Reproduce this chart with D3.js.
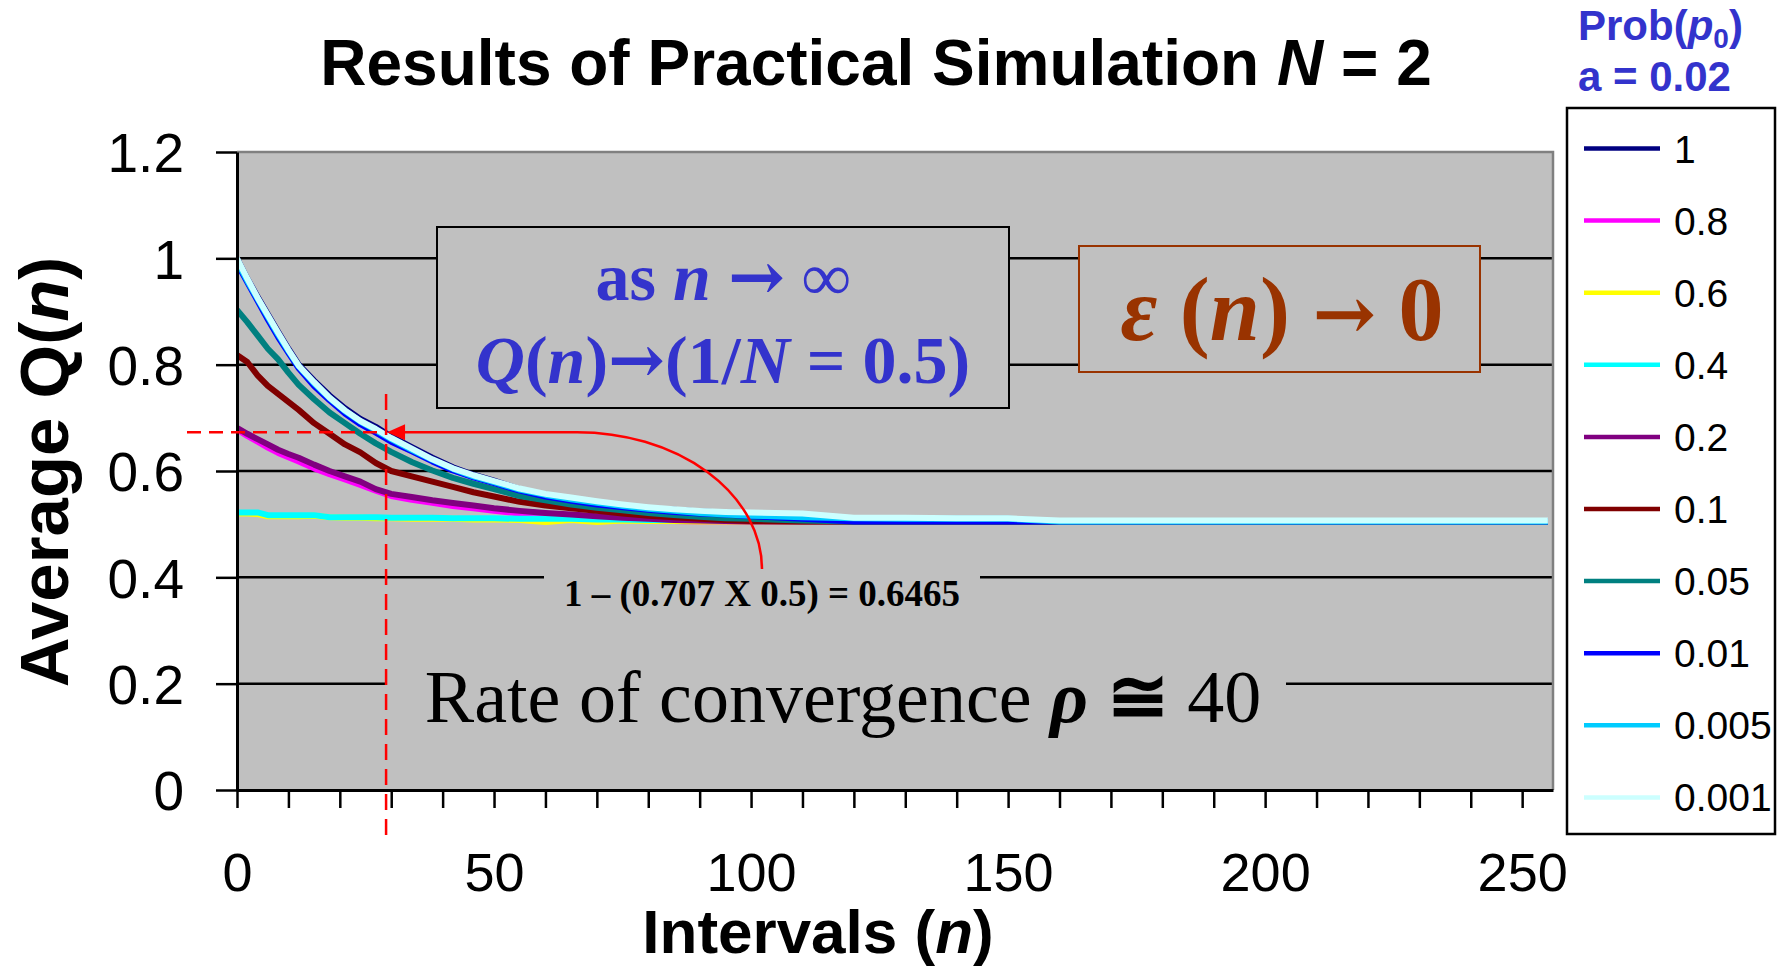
<!DOCTYPE html>
<html><head><meta charset="utf-8">
<script src="https://cdn.jsdelivr.net/npm/d3@7"></script>
<style>
html,body{margin:0;padding:0;background:#fff;}
svg{display:block;}
</style></head>
<body>
<script>
// ---------- DATA ----------
const intervals = [0,2,4,6,8,10,12,15,18,21, 24,27,30,34,38,42,46,50,55,60, 65,70,75,80,85,90,95,100,110,120, 130,140,150,160,180,200,220,240,255];
const seriesNames = ["1","0.8","0.6","0.4","0.2","0.1","0.05","0.01","0.005","0.001"];
const seriesColors = ["#000080","#FF00FF","#FFFF00","#00FFFF","#800080","#800000","#008080","#0000FF","#00CCFF","#CCFFFF"];
const q_1 = [1.000,0.962,0.928,0.895,0.862,0.830,0.800,0.770,0.742,0.718, 0.698,0.683,0.665,0.645,0.625,0.607,0.593,0.582,0.566,0.555, 0.547,0.540,0.535,0.530,0.527,0.524,0.522,0.520,0.515,0.510, 0.508,0.506,0.505,0.505,0.505,0.505,0.505,0.505,0.505];
const q_08 = [0.678,0.666,0.655,0.644,0.634,0.626,0.618,0.605,0.594,0.584, 0.574,0.563,0.553,0.546,0.540,0.534,0.530,0.525,0.520,0.517, 0.514,0.512,0.510,0.508,0.506,0.505,0.505,0.505,0.505,0.505, 0.505,0.505,0.505,0.505,0.505,0.505,0.505,0.505,0.505];
const q_06 = [0.520,0.520,0.519,0.515,0.515,0.515,0.515,0.516,0.513,0.512, 0.512,0.511,0.511,0.510,0.510,0.510,0.509,0.509,0.508,0.504, 0.508,0.504,0.507,0.506,0.506,0.505,0.505,0.505,0.505,0.505, 0.505,0.505,0.505,0.505,0.505,0.505,0.505,0.505,0.505];
const q_04 = [0.522,0.522,0.522,0.517,0.517,0.517,0.517,0.517,0.513,0.513, 0.513,0.513,0.512,0.512,0.512,0.511,0.511,0.511,0.510,0.510, 0.510,0.509,0.509,0.508,0.508,0.508,0.507,0.507,0.506,0.505, 0.505,0.505,0.505,0.505,0.505,0.505,0.505,0.505,0.505];
const q_02 = [0.681,0.670,0.660,0.650,0.640,0.632,0.625,0.612,0.600,0.590, 0.580,0.566,0.557,0.551,0.545,0.540,0.535,0.530,0.525,0.521, 0.518,0.515,0.512,0.510,0.508,0.507,0.506,0.505,0.505,0.505, 0.505,0.505,0.505,0.505,0.505,0.505,0.505,0.505,0.505];
const q_01 = [0.818,0.805,0.780,0.760,0.745,0.730,0.715,0.690,0.670,0.650, 0.635,0.615,0.600,0.590,0.580,0.570,0.560,0.552,0.542,0.535, 0.530,0.525,0.520,0.516,0.513,0.510,0.508,0.506,0.505,0.505, 0.505,0.505,0.505,0.505,0.505,0.505,0.505,0.505,0.505];
const q_005 = [0.903,0.880,0.855,0.830,0.810,0.785,0.762,0.735,0.710,0.690, 0.670,0.652,0.636,0.617,0.601,0.587,0.576,0.566,0.553,0.545, 0.537,0.531,0.526,0.521,0.517,0.514,0.511,0.510,0.507,0.505, 0.505,0.505,0.505,0.505,0.505,0.505,0.505,0.505,0.505];
const q_001 = [0.990,0.955,0.920,0.885,0.852,0.822,0.793,0.760,0.733,0.708, 0.688,0.672,0.655,0.637,0.618,0.601,0.588,0.577,0.563,0.552, 0.544,0.537,0.532,0.527,0.523,0.520,0.518,0.515,0.510,0.505, 0.505,0.505,0.505,0.505,0.505,0.505,0.505,0.505,0.505];
const q_0005 = [0.995,0.958,0.924,0.890,0.857,0.826,0.797,0.765,0.737,0.713, 0.693,0.677,0.660,0.640,0.621,0.604,0.590,0.579,0.565,0.555, 0.547,0.540,0.534,0.529,0.525,0.521,0.518,0.516,0.513,0.511, 0.510,0.510,0.510,0.505,0.505,0.505,0.505,0.505,0.505];
const q_0001 = [1.000,0.962,0.926,0.893,0.860,0.828,0.798,0.767,0.738,0.714, 0.694,0.679,0.662,0.642,0.622,0.605,0.592,0.581,0.567,0.557, 0.550,0.543,0.537,0.532,0.528,0.525,0.523,0.522,0.520,0.512, 0.512,0.511,0.511,0.507,0.507,0.507,0.507,0.507,0.507];
const seriesValues = [q_1,q_08,q_06,q_04,q_02,q_01,q_005,q_001,q_0005,q_0001];
const yTicks = [0,0.2,0.4,0.6,0.8,1,1.2];
const yTickLabels = ["0","0.2","0.4","0.6","0.8","1","1.2"];
const xTickLabels = [0,50,100,150,200,250];
const crossN = 29, crossQ = 0.673;

// ---------- CHART ----------
const W = 1777, H = 968;
const L = 237, R = 1553, T = 152, B = 790;
const sans = "'Liberation Sans', Arial, sans-serif";
const serif = "'Liberation Serif', 'Times New Roman', 'DejaVu Serif', serif";
const arrowFont = "'DejaVu Serif', serif";
const svg = d3.select("body").append("svg").attr("width", W).attr("height", H);
svg.append("rect").attr("width", W).attr("height", H).attr("fill", "#fff");

const x = d3.scaleLinear().domain([0, 256]).range([L, R]);
const y = d3.scaleLinear().domain([0, 1.2]).range([B, T]);

// plot area
svg.append("rect").attr("x", L).attr("y", T).attr("width", R - L).attr("height", B - T).attr("fill", "#C0C0C0");
// gridlines
svg.append("g").selectAll("line").data(yTicks.filter(d => d > 0 && d < 1.2)).join("line")
  .attr("x1", L).attr("x2", R).attr("y1", d => y(d)).attr("y2", d => y(d))
  .attr("stroke", "#000").attr("stroke-width", 2.5);
// border top/right gray
svg.append("path").attr("d", `M${L},${T}H${R}V${B}`).attr("fill", "none").attr("stroke", "#808080").attr("stroke-width", 2.5);

// series
svg.append("clipPath").attr("id", "clip").append("rect").attr("x", L).attr("y", T).attr("width", R - L).attr("height", B - T);
const line = d3.line().x((d, i) => x(intervals[i])).y(d => y(d));
svg.append("g").attr("clip-path", "url(#clip)").selectAll("path").data(seriesValues).join("path")
  .attr("d", d => line(d)).attr("fill", "none")
  .attr("stroke", (d, i) => seriesColors[i]).attr("stroke-width", 6)
  .attr("stroke-linejoin", "round");

// formula label
svg.append("rect").attr("x", 544).attr("y", 570).attr("width", 436).attr("height", 50).attr("fill", "#C0C0C0");
svg.append("text").attr("x", 762).attr("y", 606).attr("text-anchor", "middle")
  .attr("font-family", serif).attr("font-weight", "bold").attr("font-size", 37).attr("fill", "#000")
  .text("1 \u2013 (0.707 X 0.5) = 0.6465");

// rate label
svg.append("rect").attr("x", 385).attr("y", 650).attr("width", 901).attr("height", 90).attr("fill", "#C0C0C0");
const rt = svg.append("text").attr("x", 843).attr("y", 722).attr("text-anchor", "middle")
  .attr("font-family", serif).attr("font-size", 74).attr("fill", "#000");
rt.append("tspan").text("Rate of convergence ");
rt.append("tspan").attr("font-style", "italic").attr("font-weight", "bold").text("\u03C1");
rt.append("tspan").attr("font-weight", "bold").text(" \u2245");
rt.append("tspan").text(" 40");

// axes
const yAxis = d3.axisLeft(y).tickValues(yTicks).tickSize(21).tickSizeOuter(0).tickPadding(32)
  .tickFormat((d, i) => yTickLabels[i]);
const gy = svg.append("g").attr("transform", `translate(${L},0)`).call(yAxis);
gy.select(".domain").attr("stroke", "#000").attr("stroke-width", 3);
gy.selectAll(".tick line").attr("stroke", "#000").attr("stroke-width", 2.5);
gy.selectAll(".tick text").attr("font-family", sans).attr("font-size", 55).attr("fill", "#000").attr("dy", "0.36em");

const xAxis = d3.axisBottom(x).tickValues(d3.range(0, 251, 10)).tickSize(18).tickSizeOuter(0)
  .tickFormat(d => xTickLabels.includes(d) ? String(d) : "");
const gx = svg.append("g").attr("transform", `translate(0,${B})`).call(xAxis);
gx.select(".domain").attr("stroke", "#000").attr("stroke-width", 3);
gx.selectAll(".tick line").attr("stroke", "#000").attr("stroke-width", 2.5);
gx.selectAll(".tick text").attr("font-family", sans).attr("font-size", 54).attr("fill", "#000").attr("y", 101).attr("dy", 0);

// title
const title = svg.append("text").attr("x", 876).attr("y", 85).attr("text-anchor", "middle")
  .attr("font-family", sans).attr("font-weight", "bold").attr("font-size", 64).attr("fill", "#000");
title.append("tspan").text("Results of Practical Simulation ");
title.append("tspan").attr("font-style", "italic").text("N");
title.append("tspan").text(" = 2");

// axis titles
const xt = svg.append("text").attr("x", 818).attr("y", 953).attr("text-anchor", "middle")
  .attr("font-family", sans).attr("font-weight", "bold").attr("font-size", 62).attr("fill", "#000");
xt.append("tspan").text("Intervals (");
xt.append("tspan").attr("font-style", "italic").text("n");
xt.append("tspan").text(")");
const yt = svg.append("text").attr("transform", "translate(68,472) rotate(-90)").attr("text-anchor", "middle")
  .attr("font-family", sans).attr("font-weight", "bold").attr("font-size", 69).attr("fill", "#000");
yt.append("tspan").text("Average Q(");
yt.append("tspan").attr("font-style", "italic").text("n");
yt.append("tspan").text(")");

// legend
const lt = svg.append("g").attr("font-family", sans).attr("font-weight", "bold").attr("font-size", 42).attr("fill", "#3333CC");
const lt1 = lt.append("text").attr("x", 1578).attr("y", 40);
lt1.append("tspan").text("Prob(");
lt1.append("tspan").attr("font-style", "italic").text("p");
lt1.append("tspan").attr("font-size", 28).attr("dy", 8).text("0");
lt1.append("tspan").attr("dy", -8).text(")");
lt.append("text").attr("x", 1578).attr("y", 91).text("a = 0.02");

svg.append("rect").attr("x", 1567).attr("y", 108).attr("width", 208).attr("height", 726)
  .attr("fill", "#fff").attr("stroke", "#000").attr("stroke-width", 2.5);
const leg = svg.append("g").selectAll("g").data(seriesNames).join("g")
  .attr("transform", (d, i) => `translate(0,${148.5 + i * 72.1})`);
leg.append("line").attr("x1", 1584).attr("x2", 1660).attr("stroke", (d, i) => seriesColors[i]).attr("stroke-width", 4.5);
leg.append("text").attr("x", 1674).attr("y", 14).attr("font-family", sans).attr("font-size", 39).attr("fill", "#000").text(d => d);

// red annotations
const cx = x(crossN), cy = y(crossQ);
svg.append("line").attr("x1", 187).attr("x2", cx).attr("y1", cy).attr("y2", cy)
  .attr("stroke", "#FF0000").attr("stroke-width", 2.5).attr("stroke-dasharray", "14,8");
svg.append("line").attr("x1", cx).attr("x2", cx).attr("y1", 394).attr("y2", 838)
  .attr("stroke", "#FF0000").attr("stroke-width", 2.5).attr("stroke-dasharray", "16,9");
svg.append("path").attr("d", `M${cx + 10},${cy}L577,${cy}A185 137 0 0 1 762 569`)
  .attr("fill", "none").attr("stroke", "#FF0000").attr("stroke-width", 2.5);
svg.append("path").attr("d", `M${cx + 1},${cy}L${cx + 19},${cy - 8}L${cx + 19},${cy + 8}Z`).attr("fill", "#FF0000");

// box 1
svg.append("rect").attr("x", 437).attr("y", 227).attr("width", 572).attr("height", 181)
  .attr("fill", "#C0C0C0").attr("stroke", "#000").attr("stroke-width", 2);
const b1 = svg.append("g").attr("font-family", serif).attr("font-weight", "bold").attr("font-size", 68).attr("fill", "#3333CC");
const b1a = b1.append("text").attr("x", 723).attr("y", 300).attr("text-anchor", "middle");
b1a.append("tspan").text("as  ");
b1a.append("tspan").attr("font-style", "italic").text("n");
b1a.append("tspan").text(" ");
b1a.append("tspan").attr("font-family", arrowFont).text("\u2192");
b1a.append("tspan").text(" \u221E");
const b1b = b1.append("text").attr("x", 723).attr("y", 383).attr("text-anchor", "middle");
b1b.append("tspan").attr("font-style", "italic").text("Q");
b1b.append("tspan").text("(");
b1b.append("tspan").attr("font-style", "italic").text("n");
b1b.append("tspan").text(")");
b1b.append("tspan").attr("font-family", arrowFont).text("\u2192");
b1b.append("tspan").text("(1/");
b1b.append("tspan").attr("font-style", "italic").text("N");
b1b.append("tspan").text(" = 0.5)");

// box 2
svg.append("rect").attr("x", 1079).attr("y", 246).attr("width", 401).attr("height", 126)
  .attr("fill", "#C0C0C0").attr("stroke", "#993300").attr("stroke-width", 2);
const b2 = svg.append("text").attr("x", 1282).attr("y", 340).attr("text-anchor", "middle")
  .attr("font-family", serif).attr("font-weight", "bold").attr("font-size", 90).attr("fill", "#993300");
b2.append("tspan").attr("font-style", "italic").text("\u03B5");
b2.append("tspan").text(" (");
b2.append("tspan").attr("font-style", "italic").text("n");
b2.append("tspan").text(") ");
b2.append("tspan").attr("font-family", arrowFont).attr("font-size", 76).text("\u2192");
b2.append("tspan").text(" 0");
</script>
</body></html>
